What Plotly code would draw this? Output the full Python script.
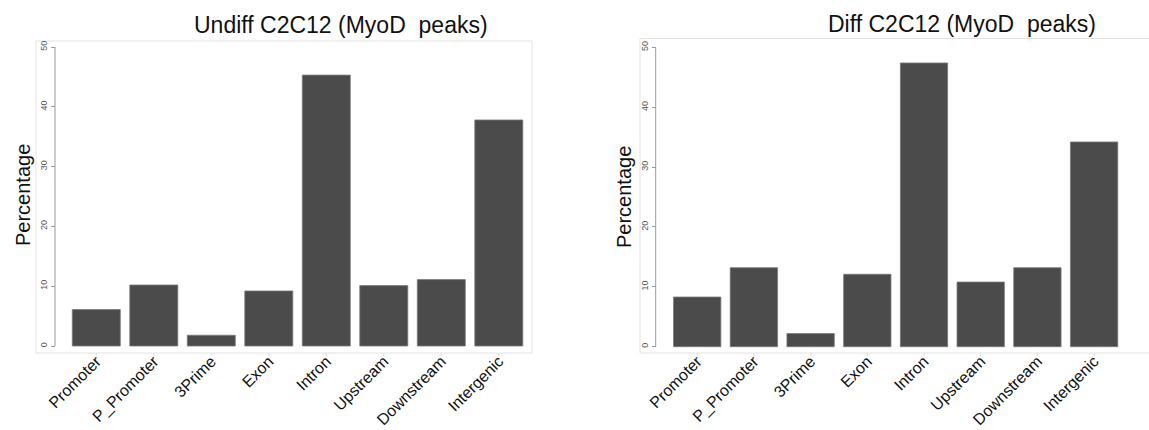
import plotly.graph_objects as go

categories = ["Promoter", "P_Promoter", "3Prime", "Exon", "Intron", "Upstream", "Downstream", "Intergenic"]
undiff_values = [6.1, 10.2, 1.8, 9.2, 45.3, 10.1, 11.1, 37.8]
diff_values = [8.3, 13.2, 2.2, 12.1, 47.4, 10.8, 13.2, 34.2]
y_ticks = [0, 10, 20, 30, 40, 50]
titles = ["Undiff C2C12 (MyoD  peaks)", "Diff C2C12 (MyoD  peaks)"]

W, H = 1149, 430
FONT = "Liberation Sans, Arial, sans-serif"
BAR = "#4b4b4b"

def px(x):
    return x / W

def py(y):
    return 1 - y / H

fig = go.Figure()
fig.add_trace(go.Bar(x=list(range(len(categories))), y=undiff_values, xaxis="x", yaxis="y",
                     marker=dict(color=BAR, line=dict(color="#7a7a7a", width=0.8)), showlegend=False))
fig.add_trace(go.Bar(x=list(range(len(categories))), y=diff_values, xaxis="x2", yaxis="y2",
                     marker=dict(color=BAR, line=dict(color="#7a7a7a", width=0.8)), showlegend=False))

# panel geometry (pixels)
panels = [
    dict(l=36, r=532, t=41, b=353, axis_x=55, c0=96.3, step=57.5, y0=346, y50=47),
    dict(l=640, r=1149, t=38.5, b=353, axis_x=655.7, c0=697.2, step=56.7, y0=346.7, y50=47.4),
]

shapes = []
for i, p in enumerate(panels):
    sfx = "" if i == 0 else "2"
    scale = (p["y0"] - p["y50"]) / 50
    yr = [-(p["b"] - p["y0"]) / scale, 50 + (p["y50"] - p["t"]) / scale]
    xr = [(p["l"] - p["c0"]) / p["step"], (p["r"] - p["c0"]) / p["step"]]
    fig.layout["xaxis" + sfx] = dict(
        domain=[px(p["l"]), px(p["r"])], range=xr, anchor="y" + sfx,
        tickmode="array", tickvals=list(range(len(categories))), ticktext=categories,
        tickangle=-45, tickfont=dict(family=FONT, size=16, color="#111"),
        ticks="", showline=False, automargin=False, ticklabelstandoff=-5,
        showgrid=False, zeroline=False, fixedrange=True,
    )
    fig.layout["yaxis" + sfx] = dict(
        domain=[py(p["b"]), py(p["t"])], range=yr, anchor="free",
        position=px(p["axis_x"]), tickmode="array", tickvals=y_ticks,
        ticktext=[str(v) for v in y_ticks], tickangle=-90,
        tickfont=dict(family=FONT, size=9, color="#555"),
        ticks="outside", ticklen=4, tickcolor="#999", showline=False, automargin=False,
        showgrid=False, zeroline=False, fixedrange=True,
    )
    # frame
    shapes.append(dict(type="rect", xref="paper", yref="paper",
                       x0=px(p["l"]), x1=px(p["r"] + (20 if i == 1 else 0)),
                       y0=py(p["b"]), y1=py(p["t"]),
                       line=dict(color="#e3e3e3", width=1), layer="below"))
    # y axis line 0..50
    shapes.append(dict(type="line", xref="paper", yref="y" + sfx,
                       x0=px(p["axis_x"]), x1=px(p["axis_x"]), y0=0, y1=50,
                       line=dict(color="#9a9a9a", width=1)))
    # faint category ticks under the frame
    for k in range(len(categories)):
        shapes.append(dict(type="line", xref="x" + sfx, yref="paper",
                           x0=k, x1=k, y0=py(p["b"]), y1=py(p["b"] + 3),
                           line=dict(color="#dddddd", width=1)))

fig.update_layout(
    width=W, height=H, margin=dict(l=0, r=0, t=0, b=0, autoexpand=False),
    paper_bgcolor="white", plot_bgcolor="white", bargap=0.165,
    shapes=shapes,
    annotations=[
        dict(text=titles[0], x=px(341), y=py(25), xref="paper", yref="paper",
             showarrow=False, font=dict(family=FONT, size=23, color="#111"), xanchor="center", yanchor="middle"),
        dict(text=titles[1], x=px(961.5), y=py(24), xref="paper", yref="paper",
             showarrow=False, font=dict(family=FONT, size=23, color="#111"), xanchor="center", yanchor="middle"),
        dict(text="Percentage", x=px(23), y=py(195), xref="paper", yref="paper", textangle=-90,
             showarrow=False, font=dict(family=FONT, size=20, color="#111"), xanchor="center", yanchor="middle"),
        dict(text="Percentage", x=px(624), y=py(197), xref="paper", yref="paper", textangle=-90,
             showarrow=False, font=dict(family=FONT, size=20, color="#111"), xanchor="center", yanchor="middle"),
    ],
)

fig.write_html("out.html")
